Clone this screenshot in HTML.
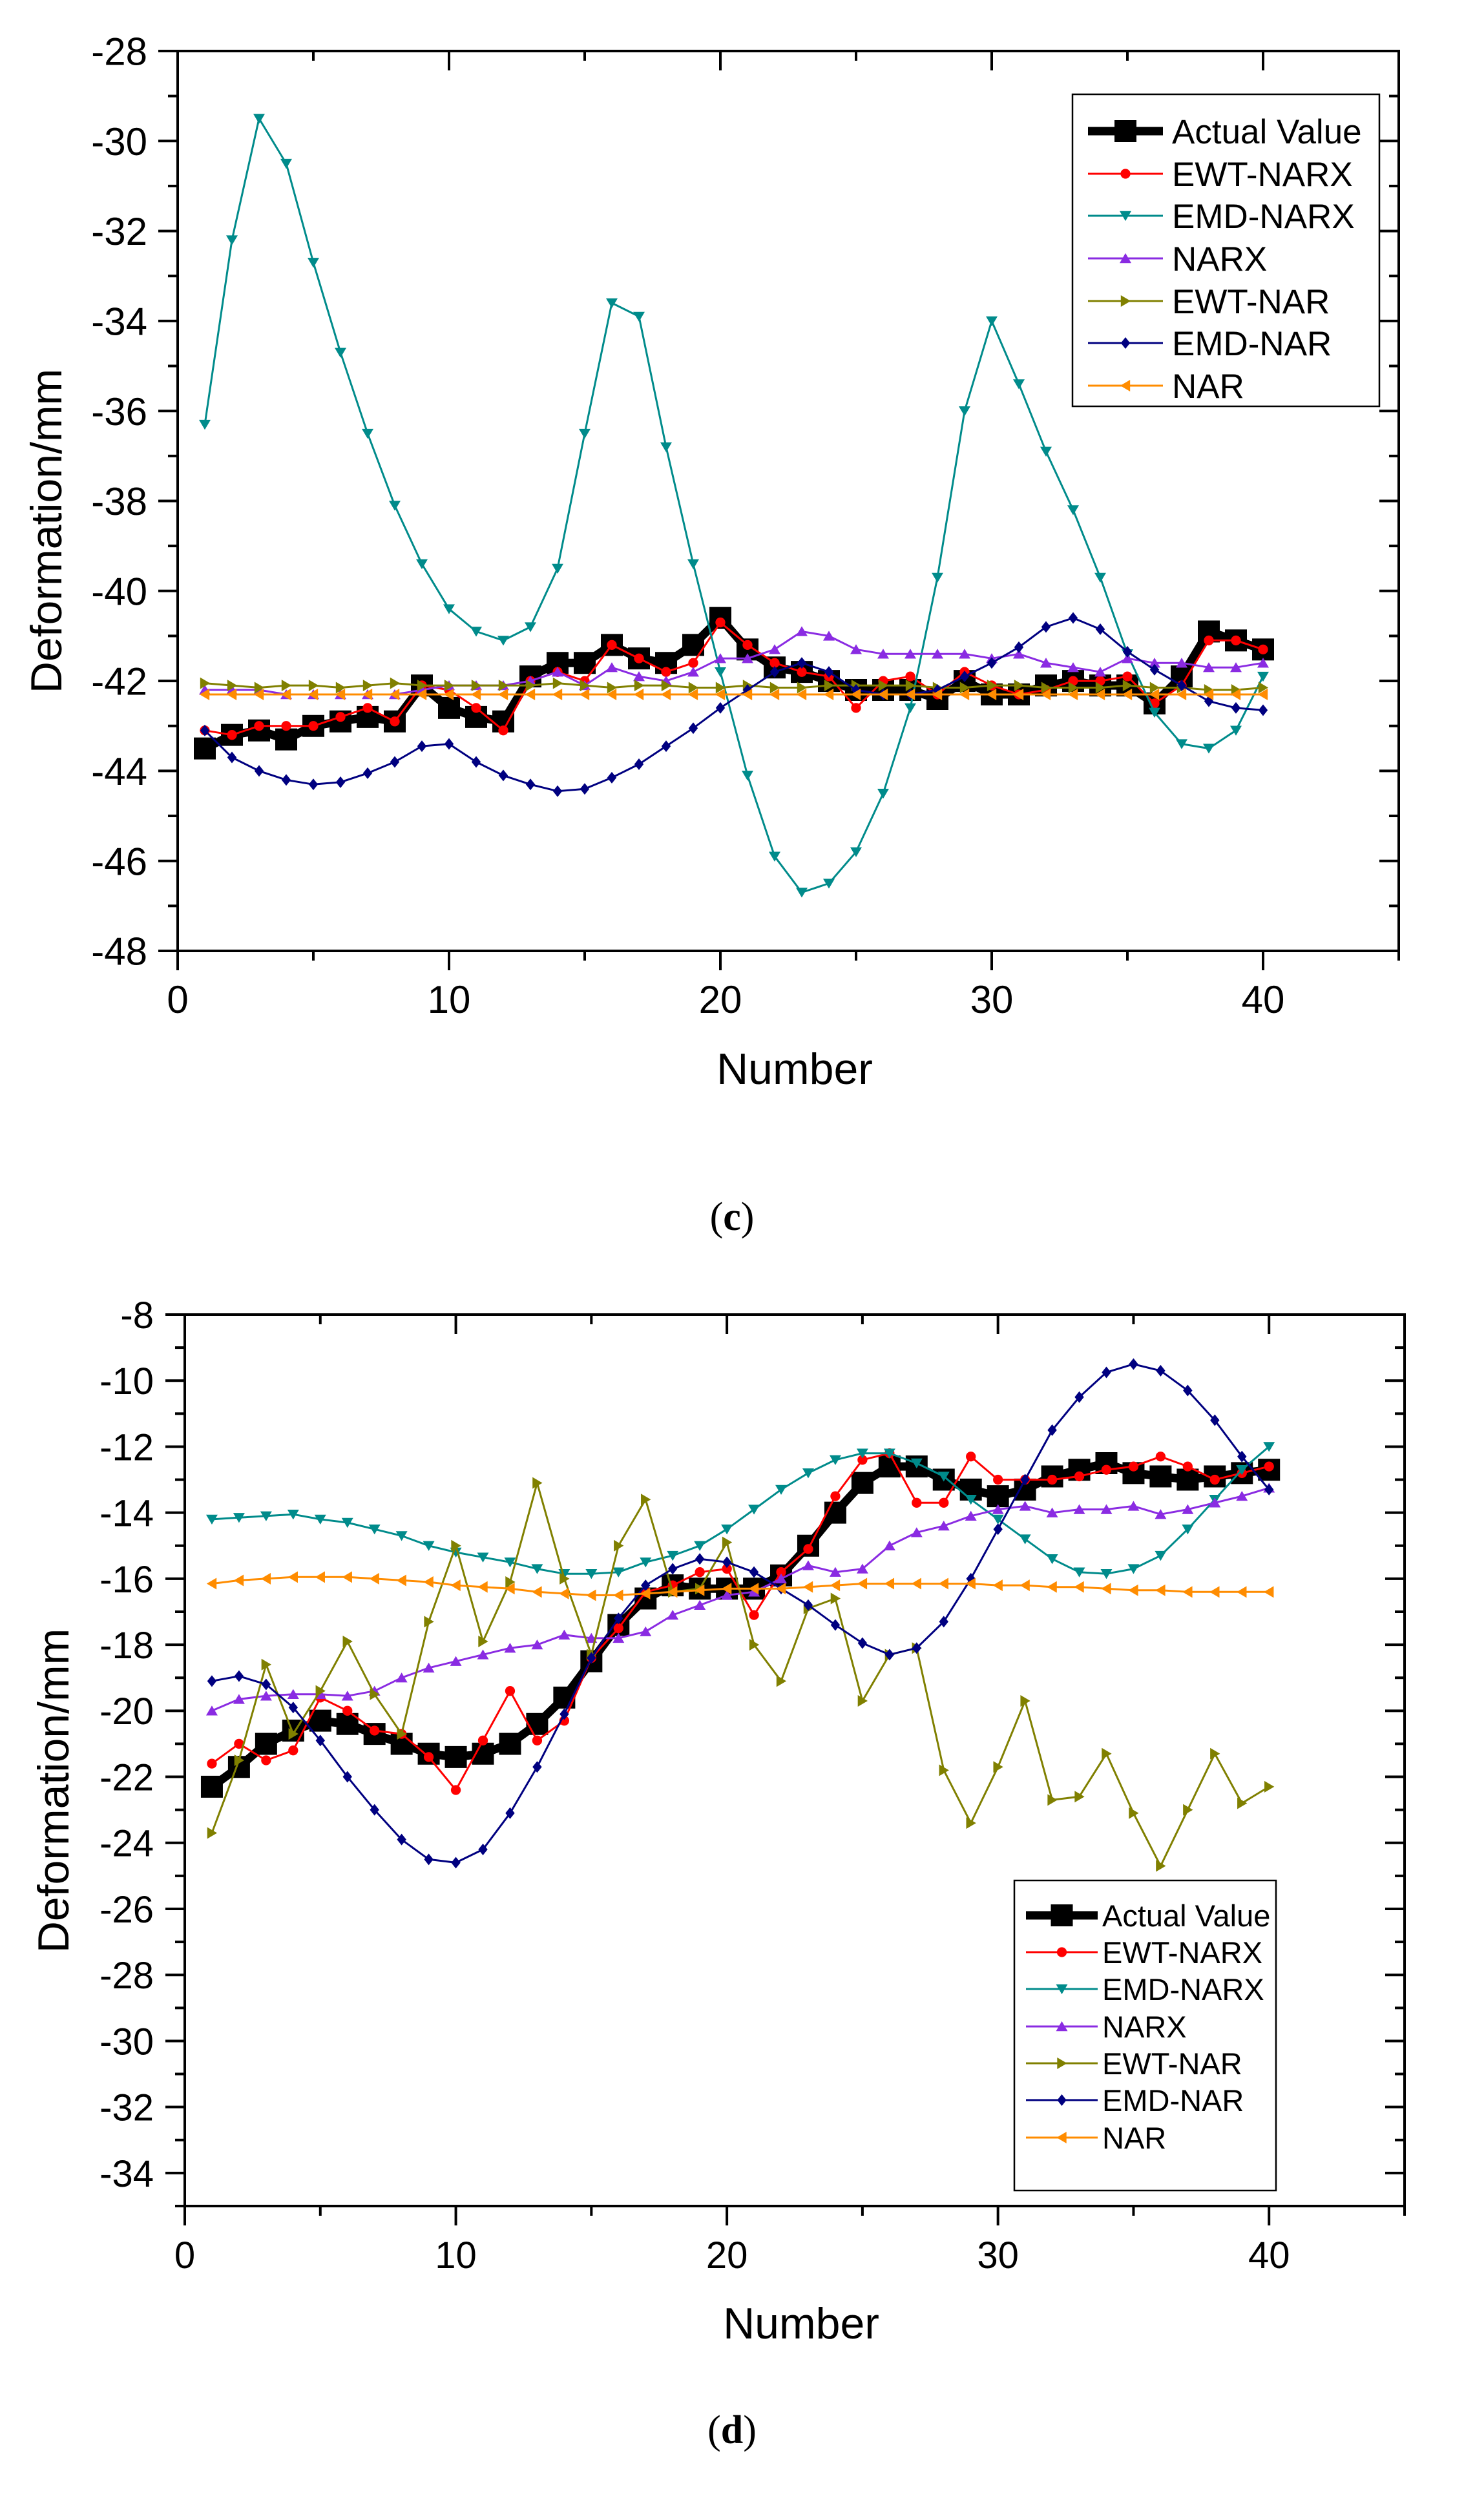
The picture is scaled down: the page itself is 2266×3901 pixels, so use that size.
<!DOCTYPE html>
<html><head><meta charset="utf-8">
<style>
html,body{margin:0;padding:0;background:#fff;}
svg{display:block;font-family:"Liberation Sans",Arial,sans-serif;}
</style></head>
<body>
<svg id="fig" width="2266" height="3901" viewBox="0 0 2266 3901" xmlns="http://www.w3.org/2000/svg">
<rect width="2266" height="3901" fill="#fff"/>
<g id="chartC"></g>
<g id="chartD"></g>
<text x="1133" y="1904" text-anchor="middle" font-family="Liberation Serif, serif" font-size="62">(<tspan font-weight="bold">c</tspan>)</text>
<text x="1133" y="3782" text-anchor="middle" font-family="Liberation Serif, serif" font-size="62">(<tspan font-weight="bold">d</tspan>)</text>
</svg>
<script>
const seriesNames = ["Actual Value","EWT-NARX","EMD-NARX","NARX","EWT-NAR","EMD-NAR","NAR"];
const seriesColors = ["#000000","#ff0000","#008b8b","#8a2be2","#808000","#000080","#ff8c00"];
const seriesMarkers = ["square","circle","down","up","right","diamond","left"];
const xValues = Array.from({length:40},(_,i)=>i+1);

const cActual = [-43.5,-43.2,-43.1,-43.3,-43.0,-42.9,-42.8,-42.9,-42.1,-42.6,-42.8,-42.9,-41.9,-41.6,-41.6,-41.2,-41.5,-41.6,-41.2,-40.6,-41.3,-41.7,-41.8,-42.0,-42.2,-42.2,-42.2,-42.4,-42.0,-42.3,-42.3,-42.1,-42.0,-42.1,-42.1,-42.5,-41.9,-40.9,-41.1,-41.3];
const cEwtNarx = [-43.1,-43.2,-43.0,-43.0,-43.0,-42.8,-42.6,-42.9,-42.1,-42.2,-42.6,-43.1,-42.0,-41.8,-42.0,-41.2,-41.5,-41.8,-41.6,-40.7,-41.2,-41.6,-41.8,-41.9,-42.6,-42.0,-41.9,-42.3,-41.8,-42.1,-42.3,-42.2,-42.0,-42.0,-41.9,-42.5,-42.1,-41.1,-41.1,-41.3];
const cEmdNarx = [-36.3,-32.2,-29.5,-30.5,-32.7,-34.7,-36.5,-38.1,-39.4,-40.4,-40.9,-41.1,-40.8,-39.5,-36.5,-33.6,-33.9,-36.8,-39.4,-41.8,-44.1,-45.9,-46.7,-46.5,-45.8,-44.5,-42.6,-39.7,-36.0,-34.0,-35.4,-36.9,-38.2,-39.7,-41.4,-42.7,-43.4,-43.5,-43.1,-41.9];
const cNarx = [-42.2,-42.2,-42.2,-42.3,-42.3,-42.3,-42.3,-42.3,-42.2,-42.1,-42.1,-42.1,-42.0,-41.8,-42.1,-41.7,-41.9,-42.0,-41.8,-41.5,-41.5,-41.3,-40.9,-41.0,-41.3,-41.4,-41.4,-41.4,-41.4,-41.5,-41.4,-41.6,-41.7,-41.8,-41.5,-41.6,-41.6,-41.7,-41.7,-41.6];
const cEwtNar = [-42.05,-42.1,-42.15,-42.1,-42.1,-42.15,-42.1,-42.05,-42.1,-42.1,-42.1,-42.1,-42.1,-42.05,-42.1,-42.15,-42.1,-42.1,-42.15,-42.15,-42.1,-42.15,-42.15,-42.1,-42.1,-42.1,-42.1,-42.15,-42.15,-42.1,-42.1,-42.15,-42.15,-42.15,-42.1,-42.15,-42.15,-42.2,-42.2,-42.15];
const cEmdNar = [-43.1,-43.7,-44.0,-44.2,-44.3,-44.25,-44.05,-43.8,-43.45,-43.4,-43.8,-44.1,-44.3,-44.45,-44.4,-44.15,-43.85,-43.45,-43.05,-42.6,-42.2,-41.8,-41.6,-41.8,-42.2,-42.3,-42.3,-42.2,-41.9,-41.6,-41.25,-40.8,-40.6,-40.85,-41.35,-41.75,-42.1,-42.45,-42.6,-42.65];
const cNar = [-42.3,-42.3,-42.3,-42.3,-42.3,-42.3,-42.3,-42.3,-42.3,-42.3,-42.3,-42.3,-42.3,-42.3,-42.3,-42.3,-42.3,-42.3,-42.3,-42.3,-42.3,-42.3,-42.3,-42.3,-42.3,-42.3,-42.3,-42.3,-42.3,-42.3,-42.3,-42.3,-42.3,-42.3,-42.3,-42.3,-42.3,-42.3,-42.3,-42.3];

const dActual = [-22.3,-21.7,-21.0,-20.6,-20.3,-20.4,-20.7,-21.0,-21.3,-21.4,-21.3,-21.0,-20.4,-19.6,-18.5,-17.4,-16.6,-16.2,-16.3,-16.3,-16.3,-15.9,-15.0,-14.0,-13.1,-12.6,-12.6,-13.0,-13.3,-13.5,-13.3,-12.9,-12.7,-12.5,-12.8,-12.9,-13.0,-12.9,-12.8,-12.7];
const dEwtNarx = [-21.6,-21.0,-21.5,-21.2,-19.6,-20.0,-20.6,-20.7,-21.4,-22.4,-20.9,-19.4,-20.9,-20.3,-18.4,-17.5,-16.4,-16.2,-15.8,-15.7,-17.1,-15.8,-15.1,-13.5,-12.4,-12.2,-13.7,-13.7,-12.3,-13.0,-13.0,-13.0,-12.9,-12.7,-12.6,-12.3,-12.6,-13.0,-12.8,-12.6];
const dEmdNarx = [-14.2,-14.15,-14.1,-14.05,-14.2,-14.3,-14.5,-14.7,-15.0,-15.2,-15.35,-15.5,-15.7,-15.85,-15.85,-15.8,-15.5,-15.3,-15.0,-14.5,-13.9,-13.3,-12.8,-12.4,-12.2,-12.2,-12.5,-12.9,-13.6,-14.2,-14.8,-15.4,-15.8,-15.85,-15.7,-15.3,-14.5,-13.6,-12.7,-12.0];
const dNarx = [-20.0,-19.65,-19.55,-19.5,-19.5,-19.55,-19.4,-19.0,-18.7,-18.5,-18.3,-18.1,-18.0,-17.7,-17.8,-17.8,-17.6,-17.1,-16.8,-16.5,-16.4,-16.0,-15.6,-15.8,-15.7,-15.0,-14.6,-14.4,-14.1,-13.9,-13.8,-14.0,-13.9,-13.9,-13.8,-14.05,-13.9,-13.7,-13.5,-13.25];
const dEwtNar = [-23.7,-21.5,-18.6,-20.7,-19.4,-17.9,-19.5,-20.7,-17.3,-15.0,-17.9,-16.1,-13.1,-16.0,-18.3,-15.0,-13.6,-16.4,-16.3,-14.9,-18.0,-19.1,-16.9,-16.6,-19.7,-18.3,-18.1,-21.8,-23.4,-21.7,-19.7,-22.7,-22.6,-21.3,-23.1,-24.7,-23.0,-21.3,-22.8,-22.3];
const dEmdNar = [-19.1,-18.95,-19.2,-19.9,-20.9,-22.0,-23.0,-23.9,-24.5,-24.6,-24.2,-23.1,-21.7,-20.1,-18.4,-17.2,-16.2,-15.7,-15.4,-15.5,-15.8,-16.3,-16.8,-17.4,-17.95,-18.3,-18.1,-17.3,-16.0,-14.5,-13.0,-11.5,-10.5,-9.75,-9.5,-9.7,-10.3,-11.2,-12.3,-13.3];
const dNar = [-16.15,-16.05,-16.0,-15.95,-15.95,-15.95,-16.0,-16.05,-16.1,-16.2,-16.25,-16.3,-16.4,-16.45,-16.5,-16.5,-16.45,-16.4,-16.35,-16.3,-16.3,-16.3,-16.25,-16.2,-16.15,-16.15,-16.15,-16.15,-16.15,-16.2,-16.2,-16.25,-16.25,-16.3,-16.35,-16.35,-16.4,-16.4,-16.4,-16.4];

const cYTicks = [-28,-30,-32,-34,-36,-38,-40,-42,-44,-46,-48];
const dYTicks = [-8,-10,-12,-14,-16,-18,-20,-22,-24,-26,-28,-30,-32,-34];
const xTicks = [0,10,20,30,40];

const NS = "http://www.w3.org/2000/svg";
function mk(tag, attrs, parent){
  const e = document.createElementNS(NS, tag);
  for (const k in attrs) e.setAttribute(k, attrs[k]);
  if (parent) parent.appendChild(e);
  return e;
}
function markerPath(type, x, y, s){
  switch(type){
    case "square": return `M${x-s},${y-s}H${x+s}V${y+s}H${x-s}Z`;
    case "down": return `M${x-s},${y-s*0.8}H${x+s}L${x},${y+s*0.9}Z`;
    case "up": return `M${x-s},${y+s*0.8}H${x+s}L${x},${y-s*0.9}Z`;
    case "right": return `M${x-s*0.8},${y-s}V${y+s}L${x+s*0.9},${y}Z`;
    case "left": return `M${x+s*0.8},${y-s}V${y+s}L${x-s*0.9},${y}Z`;
    case "diamond": return `M${x},${y-s}L${x+s*0.8},${y}L${x},${y+s}L${x-s*0.8},${y}Z`;
  }
  return "";
}
function drawMarker(g, type, x, y, s, color){
  if (type === "circle") return mk("circle",{cx:x,cy:y,r:s*0.85,fill:color},g);
  return mk("path",{d:markerPath(type,x,y,s),fill:color},g);
}

function drawChart(g, cfg){
  const {L,R,T,B,yMin,yMax,yTicks,series,legend,yTitleX,yTitleY,xTitleY,xLabelY,yLabelR,tickFont} = cfg;
  const xs = v => L + (v - 0) / 45 * (R - L);
  const ys = v => T + (yMax - v) / (yMax - yMin) * (B - T);

  const axes = mk("g",{},g);
  
  
  mk("rect",{x:L,y:T,width:R-L,height:B-T,fill:"none",stroke:"#000","stroke-width":4},axes);
  for (let v = Math.ceil(yMin); v <= yMax; v++){
    const y = ys(v);
    const major = (v % 2 === 0);
    const len = major ? 30 : 15;
    mk("line",{x1:L-len,y1:y,x2:L,y2:y,stroke:"#000","stroke-width":4},axes);
    mk("line",{x1:R-len,y1:y,x2:R,y2:y,stroke:"#000","stroke-width":4},axes);
  }
  for (let v = 0; v <= 45; v += 5){
    const x = xs(v);
    const major = (v % 10 === 0);
    const len = major ? 30 : 15;
    mk("line",{x1:x,y1:B,x2:x,y2:B+len,stroke:"#000","stroke-width":4},axes);
    mk("line",{x1:x,y1:T,x2:x,y2:T+len,stroke:"#000","stroke-width":4},axes);
  }
  yTicks.forEach(v=>{
    const t = mk("text",{x:yLabelR,y:ys(v)+tickFont*0.36,"text-anchor":"end","font-size":tickFont},axes);
    
    
    t.textContent = v;
  });
  xTicks.forEach(v=>{
    const t = mk("text",{x:xs(v),y:xLabelY,"text-anchor":"middle","font-size":tickFont},axes);
    
    
    t.textContent = v;
  });
  const yt = mk("text",{x:yTitleX,y:yTitleY,"text-anchor":"middle","font-size":68,transform:`rotate(-90 ${yTitleX} ${yTitleY})`},axes);
  
  
  yt.textContent = "Deformation/mm";
  const xt = mk("text",{x:(L+R)/2+10,y:xTitleY,"text-anchor":"middle","font-size":68},axes);
  
  
  xt.textContent = "Number";

  series.forEach((vals, si)=>{
    const sg = mk("g",{},g);
    
    
    const color = seriesColors[si];
    const pts = vals.map((v,i)=>xs(xValues[i]).toFixed(1)+","+ys(v).toFixed(1)).join(" ");
    mk("polyline",{points:pts,fill:"none",stroke:color,"stroke-width":si===0?13:3,"stroke-linejoin":"round"},sg);
    vals.forEach((v,i)=>{
      const m = drawMarker(sg, seriesMarkers[si], xs(xValues[i]), ys(v), si===0?17:9, color);
      
      
    });
  });

  const lg = mk("g",{},g);
  
  
  mk("rect",{x:legend.x,y:legend.y,width:legend.w,height:legend.h,fill:"#fff",stroke:"#000","stroke-width":2.5},lg);
  seriesNames.forEach((n,si)=>{
    const y = legend.rows[si];
    const eg = mk("g",{},lg);
    
    
    mk("line",{x1:legend.lx1,y1:y,x2:legend.lx2,y2:y,stroke:seriesColors[si],"stroke-width":si===0?13:3},eg);
    drawMarker(eg, seriesMarkers[si], (legend.lx1+legend.lx2)/2, y, si===0?17:9, seriesColors[si]);
    const t = mk("text",{x:legend.tx,y:y+legend.fs*0.36,"font-size":legend.fs},eg);
    t.textContent = n;
  });
}

drawChart(document.getElementById("chartC"),{
  L:275,R:2165,T:79,B:1472,yMin:-48,yMax:-28,yTicks:cYTicks,
  series:[cActual,cEwtNarx,cEmdNarx,cNarx,cEwtNar,cEmdNar,cNar],
  legend:{x:1660,y:146,w:475,h:483,lx1:1684,lx2:1800,tx:1814,fs:53,rows:[203,269,334,400,466,531,597]},
  yTitleX:95,yTitleY:822,xTitleY:1678,xLabelY:1568,yLabelR:228,tickFont:60
});
drawChart(document.getElementById("chartD"),{
  L:286,R:2174,T:2035,B:3415,yMin:-35,yMax:-8,yTicks:dYTicks,
  series:[dActual,dEwtNarx,dEmdNarx,dNarx,dEwtNar,dEmdNar,dNar],
  legend:{x:1570,y:2911,w:405,h:480,lx1:1588,lx2:1699,tx:1706,fs:47,rows:[2965,3022,3079,3137,3194,3251,3309]},
  yTitleX:106,yTitleY:2772,xTitleY:3620,xLabelY:3511,yLabelR:238,tickFont:58
});
</script>
</body></html>
